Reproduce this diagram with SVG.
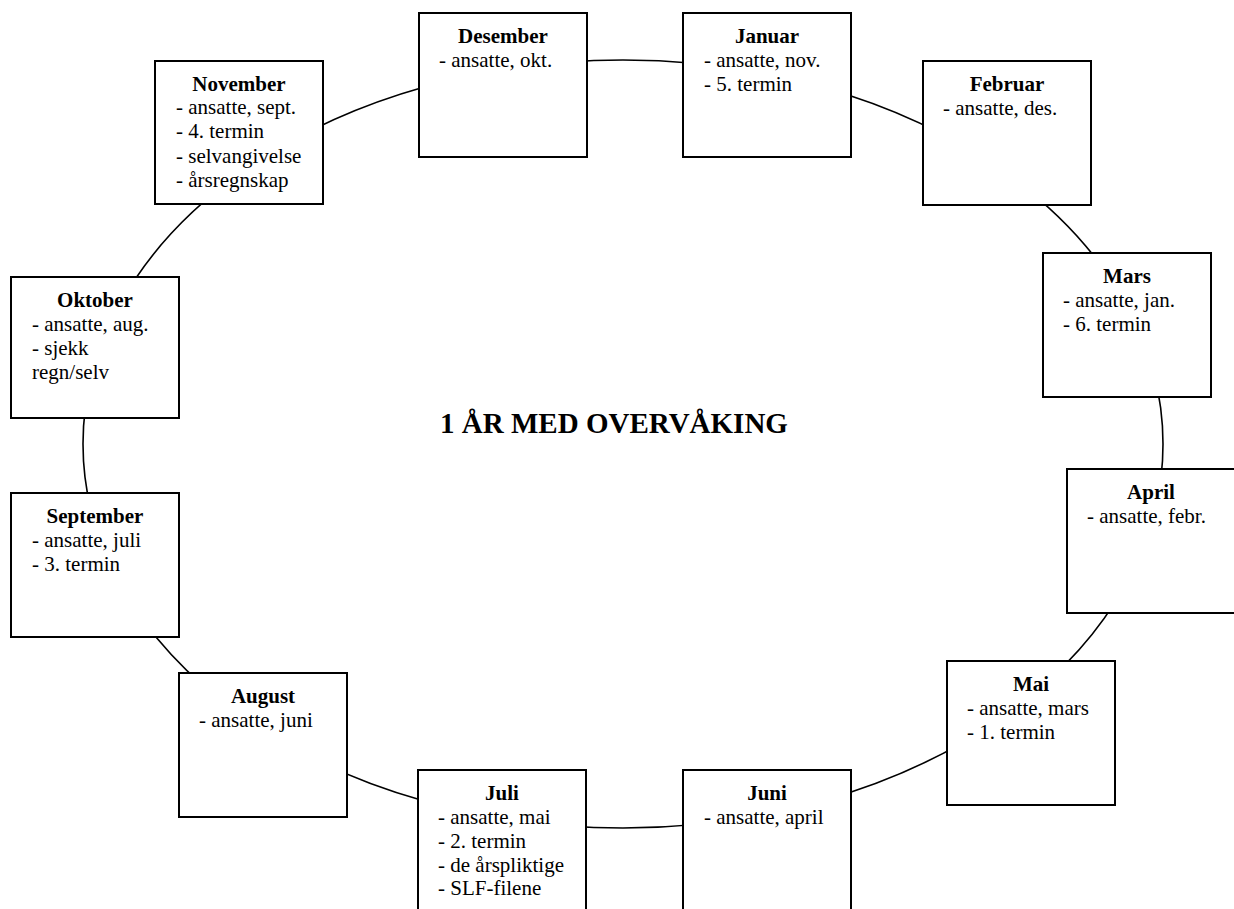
<svg xmlns="http://www.w3.org/2000/svg" width="1234" height="909" viewBox="0 0 1234 909">
<style>
.box{fill:#fff;stroke:#000;stroke-width:2}
.ring{fill:none;stroke:#000;stroke-width:1.6}
.t{font-family:"Liberation Serif","Times New Roman",serif;font-size:21px;font-weight:bold;text-anchor:middle;fill:#000}
.b{font-family:"Liberation Serif","Times New Roman",serif;font-size:21px;fill:#000}
.title{font-family:"Liberation Serif","Times New Roman",serif;font-size:29px;font-weight:bold;text-anchor:middle;fill:#000}
</style>
<rect width="1234" height="909" fill="#fff"/>
<g id="connectors">
<ellipse class="ring" cx="623" cy="444" rx="540" ry="384"/>
</g>
<g id="desember">
<rect class="box" x="419" y="13" width="168" height="144"/>
<text class="t" x="503" y="43">Desember</text>
<text class="b" x="439" y="67">- ansatte, okt.</text>
</g>
<g id="januar">
<rect class="box" x="683" y="13" width="168" height="144"/>
<text class="t" x="767" y="43">Januar</text>
<text class="b" x="704" y="67">- ansatte, nov.</text>
<text class="b" x="704" y="91">- 5. termin</text>
</g>
<g id="februar">
<rect class="box" x="923" y="61" width="168" height="144"/>
<text class="t" x="1007" y="91">Februar</text>
<text class="b" x="943" y="115">- ansatte, des.</text>
</g>
<g id="november">
<rect class="box" x="155" y="61" width="168" height="143"/>
<text class="t" x="239" y="91">November</text>
<text class="b" x="176" y="114">- ansatte, sept.</text>
<text class="b" x="176" y="138">- 4. termin</text>
<text class="b" x="176" y="163">- selvangivelse</text>
<text class="b" x="176" y="187">- årsregnskap</text>
</g>
<g id="mars">
<rect class="box" x="1043" y="253" width="168" height="144"/>
<text class="t" x="1127" y="283">Mars</text>
<text class="b" x="1063" y="307">- ansatte, jan.</text>
<text class="b" x="1063" y="331">- 6. termin</text>
</g>
<g id="oktober">
<rect class="box" x="11" y="277" width="168" height="141"/>
<text class="t" x="95" y="307">Oktober</text>
<text class="b" x="32" y="331">- ansatte, aug.</text>
<text class="b" x="32" y="355">- sjekk</text>
<text class="b" x="32" y="379">regn/selv</text>
</g>
<g id="april">
<rect class="box" x="1067" y="469" width="168" height="144"/>
<text class="t" x="1151" y="499">April</text>
<text class="b" x="1087" y="523">- ansatte, febr.</text>
</g>
<g id="september">
<rect class="box" x="11" y="493" width="168" height="144"/>
<text class="t" x="95" y="523">September</text>
<text class="b" x="32" y="547">- ansatte, juli</text>
<text class="b" x="32" y="571">- 3. termin</text>
</g>
<g id="mai">
<rect class="box" x="947" y="661" width="168" height="144"/>
<text class="t" x="1031" y="691">Mai</text>
<text class="b" x="967" y="715">- ansatte, mars</text>
<text class="b" x="967" y="739">- 1. termin</text>
</g>
<g id="august">
<rect class="box" x="179" y="673" width="168" height="144"/>
<text class="t" x="263" y="703">August</text>
<text class="b" x="199" y="727">- ansatte, juni</text>
</g>
<g id="juli">
<rect class="box" x="418" y="770" width="168" height="144"/>
<text class="t" x="502" y="800">Juli</text>
<text class="b" x="438" y="824">- ansatte, mai</text>
<text class="b" x="438" y="848">- 2. termin</text>
<text class="b" x="438" y="872">- de årspliktige</text>
<text class="b" x="438" y="895">- SLF-filene</text>
</g>
<g id="juni">
<rect class="box" x="683" y="770" width="168" height="144"/>
<text class="t" x="767" y="800">Juni</text>
<text class="b" x="704" y="824">- ansatte, april</text>
</g>
<g id="center-title">
<text class="title" x="614" y="433">1 ÅR MED OVERVÅKING</text>
</g>
</svg>
